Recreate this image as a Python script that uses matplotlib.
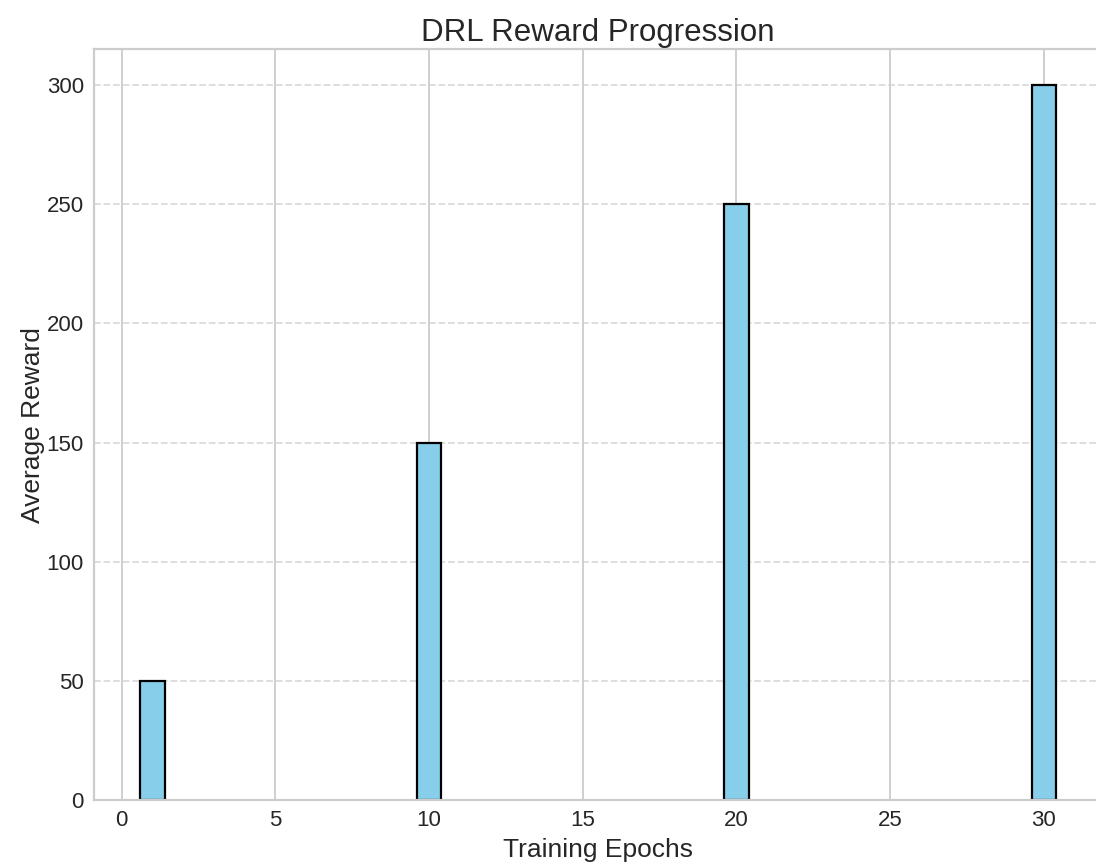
import matplotlib
matplotlib.use('Agg')
import matplotlib.pyplot as plt
import seaborn as sns

epochs = [1, 10, 20, 30]
rewards = [50, 150, 250, 300]

sns.set_style('whitegrid')
plt.rcParams['font.family'] = ['Liberation Sans', 'DejaVu Sans']

fig, ax = plt.subplots(figsize=(10.96, 8.66), dpi=100)
# the right edge of the axes runs just past the figure, as in the reference
fig.subplots_adjust(left=0.086, right=1.0055, top=0.943, bottom=0.0762)

ax.bar(epochs, rewards, width=0.8, color='skyblue', edgecolor='black', linewidth=1.6)
ax.set_title('DRL Reward Progression', fontsize=22.5)
ax.set_xlabel('Training Epochs', fontsize=19, labelpad=5)
ax.set_ylabel('Average Reward', fontsize=19, labelpad=1)
ax.tick_params(labelsize=16, pad=4)
ax.grid(axis='x', linewidth=1.3)
ax.grid(axis='y', linestyle='--', alpha=0.7, linewidth=1.3)
for s in ax.spines.values():
    s.set_linewidth(1.6)

fig.savefig('out.png')
